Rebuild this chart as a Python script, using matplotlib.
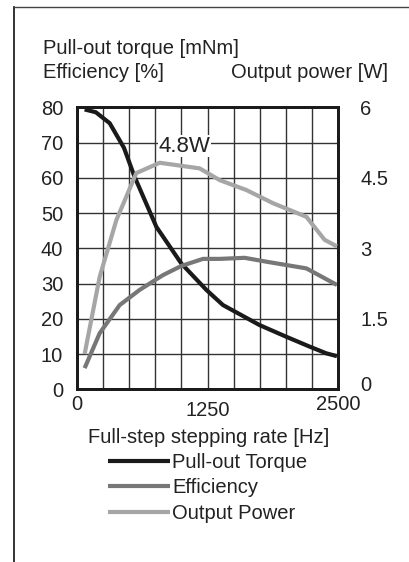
import matplotlib
matplotlib.use("Agg")
import matplotlib.pyplot as plt
from matplotlib.lines import Line2D
from matplotlib.transforms import ScaledTranslation

plt.rcParams['font.family'] = ['Liberation Sans', 'DejaVu Sans']

# data (Hz, mNm / % / W)
torque_hz = [73, 180, 313, 450, 550, 760, 999, 1239, 1398, 1750, 2005, 2229, 2388, 2490]
torque_mnm = [79.4, 78.6, 75.5, 68.5, 60.4, 46.1, 35.7, 28.2, 23.9, 18.2, 14.9, 12.1, 10.2, 9.4]

eff_hz = [73, 217, 409, 600, 824, 1000, 1207, 1367, 1606, 1814, 2197, 2490]
eff_pct = [6.0, 15.9, 23.9, 28.2, 32.4, 35.0, 37.0, 37.0, 37.3, 36.2, 34.3, 29.6]

pow_hz = [73, 217, 377, 568, 792, 1175, 1367, 1622, 1877, 2197, 2372, 2490]
pow_w = [0.75, 2.39, 3.6, 4.6, 4.82, 4.7, 4.45, 4.24, 3.96, 3.67, 3.18, 3.04]

x_ticks = [0, 1250, 2500]
left_ticks = [0, 10, 20, 30, 40, 50, 60, 70, 80]
right_ticks = [0, 1.5, 3, 4.5, 6]
right_labels = ['0', '1.5', '3', '4.5', '6']

ink = '#222222'
c_torque = '#1a1a1a'
c_eff = '#777777'
c_pow = '#a6a6a6'
fs = 14.5

W, H = 409, 562
fig = plt.figure(figsize=(W / 100, H / 100), dpi=100)
ax = fig.add_axes([77 / W, 1 - 389.3 / H, 261 / W, 282 / H])
ax2 = ax.twinx()

ax.set_xlim(0, 2500)
ax.set_ylim(0, 80)
ax2.set_ylim(0, 6)

ax.set_xticks(x_ticks)
ax.set_xticks(range(250, 2500, 250), minor=True)
ax.set_yticks(left_ticks)
ax2.set_yticks(right_ticks)
ax2.set_yticklabels(right_labels)

ax.grid(True, which='both', color='#333333', lw=1.0)
ax.set_axisbelow(True)
for a in (ax, ax2):
    for s in a.spines.values():
        s.set_linewidth(2.0)
        s.set_color('#1a1a1a')
ax.tick_params(which='both', length=0)
ax.tick_params(axis='x', labelsize=fs, colors=ink, pad=4)
ax.tick_params(axis='y', labelsize=fs, colors=ink, pad=10)
ax2.tick_params(length=0, labelsize=fs, colors=ink, pad=16)

# small nudges seen in the original
r0 = ax2.yaxis.get_majorticklabels()[0]
r0.set_transform(r0.get_transform() + ScaledTranslation(0, 0.06, fig.dpi_scale_trans))
xl = ax.xaxis.get_majorticklabels()
xl[1].set_transform(xl[1].get_transform() + ScaledTranslation(0, -0.06, fig.dpi_scale_trans))

l1, = ax.plot(torque_hz, torque_mnm, color=c_torque, lw=3, solid_capstyle='butt', zorder=3)
l2, = ax.plot(eff_hz, eff_pct, color=c_eff, lw=3, solid_capstyle='butt', zorder=3)
l3, = ax2.plot(pow_hz, pow_w, color=c_pow, lw=3, solid_capstyle='butt', zorder=3)

ax.text(1030, 69.0, '4.8W', ha='center', va='center', fontsize=16, color=ink,
        bbox=dict(facecolor='white', edgecolor='none', pad=0.5), zorder=2.5)

fig.text(43 / W, 1 - 53.5 / H, 'Pull-out torque [mNm]', fontsize=fs, color=ink, va='baseline')
fig.text(43 / W, 1 - 78 / H, 'Efficiency [%]', fontsize=fs, color=ink, va='baseline')
fig.text(388 / W, 1 - 78 / H, 'Output power [W]', fontsize=fs, color=ink, va='baseline', ha='right')
fig.text(209 / W, 1 - 443 / H, 'Full-step stepping rate [Hz]', fontsize=fs, color=ink,
         ha='center', va='baseline')

fig.legend([l1, l2, l3], ['Pull-out Torque', 'Efficiency', 'Output Power'],
           loc='upper left', bbox_to_anchor=(108 / W, 1 - 453 / H), frameon=False,
           fontsize=fs, handlelength=3.1, handletextpad=0.1, labelspacing=0.32,
           borderpad=0, borderaxespad=0, labelcolor=ink)

# outer box, only left and top edges show
fig.add_artist(Line2D([14 / W, 14 / W], [0, 1 - 7 / H], color='#111111', lw=1.2))
fig.add_artist(Line2D([14 / W, 1], [1 - 7 / H, 1 - 7 / H], color='#444444', lw=1.0))

fig.savefig('out.png', dpi=100)
